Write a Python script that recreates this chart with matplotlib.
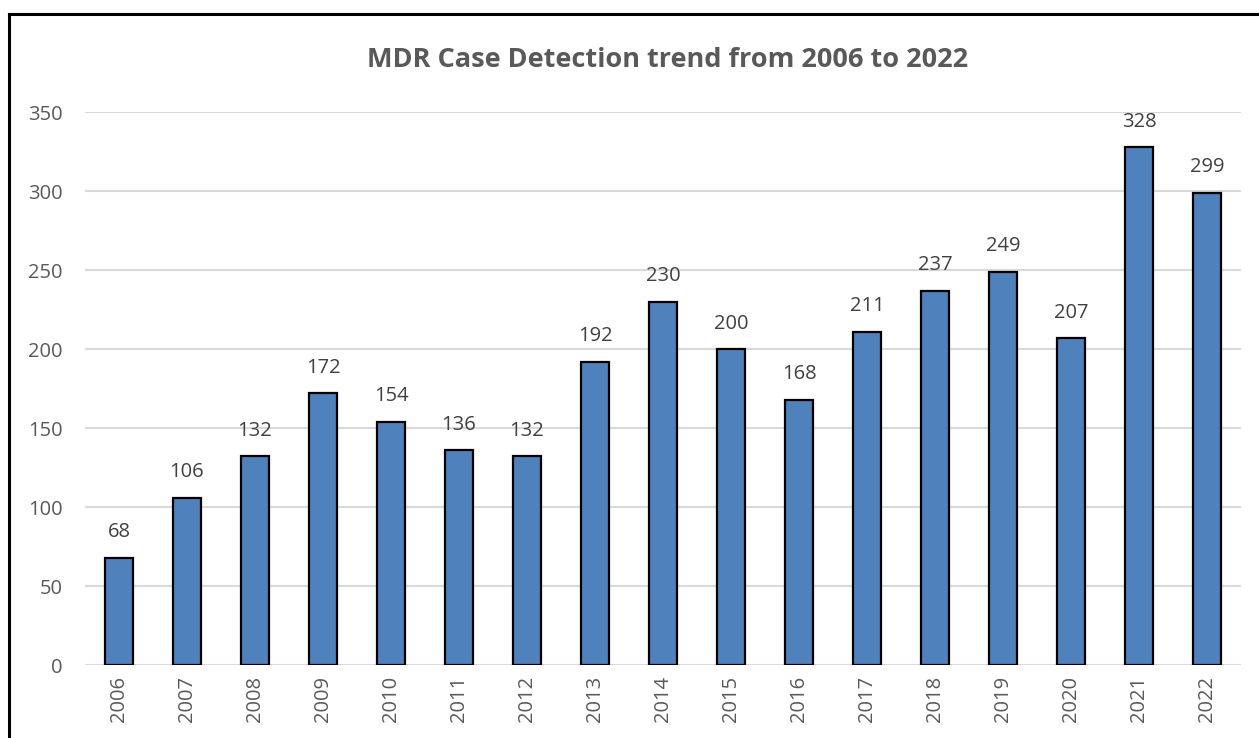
import numpy as np
import matplotlib.pyplot as plt
from matplotlib.lines import Line2D

years = ['2006', '2007', '2008', '2009', '2010', '2011', '2012', '2013', '2014',
         '2015', '2016', '2017', '2018', '2019', '2020', '2021', '2022']
cases = [68, 106, 132, 172, 154, 136, 132, 192, 230, 200, 168, 211, 237, 249, 207, 328, 299]
yticks = [0, 50, 100, 150, 200, 250, 300, 350]

plt.rcParams['font.family'] = ['Open Sans', 'DejaVu Sans']

fig = plt.figure(figsize=(12.59, 7.38), dpi=100)
ax = fig.add_axes([0.0675, 0.0989, 0.9182, 0.7493])

x = np.arange(len(years))
ax.bar(x, cases, width=0.42, color='#4F81BD', edgecolor='black', linewidth=1.6, zorder=3)

for xi, v in zip(x, cases):
    ax.annotate(str(v), (xi, v), xytext=(0, 11), textcoords='offset points',
                ha='center', va='bottom', fontsize=14.5, color='#404040')

ax.set_xlim(-0.5, len(years) - 0.5)
ax.set_ylim(0, 350)
ax.set_yticks(yticks)
ax.set_xticks(x)
ax.set_xticklabels(years, rotation=90)
ax.tick_params(axis='both', length=0, labelsize=14.5, colors='#595959')
ax.tick_params(axis='y', pad=16)
ax.tick_params(axis='x', pad=8)
ax.grid(axis='y', color='#D9D9D9', linewidth=1.5, zorder=0)
for s in ax.spines.values():
    s.set_visible(False)

fig.text(668 / 1259, 1 - 60 / 738, 'MDR Case Detection trend from 2006 to 2022', ha='center', va='center',
         fontsize=19.5, fontweight='bold', color='#595959')

# outer chart frame
fig.add_artist(Line2D([9 / 1259, 9 / 1259], [0, 1 - 14 / 738], color='black', linewidth=2.2))
fig.add_artist(Line2D([9 / 1259, 1], [1 - 14 / 738, 1 - 14 / 738], color='black', linewidth=2.2))

fig.savefig('out.png', dpi=100)
